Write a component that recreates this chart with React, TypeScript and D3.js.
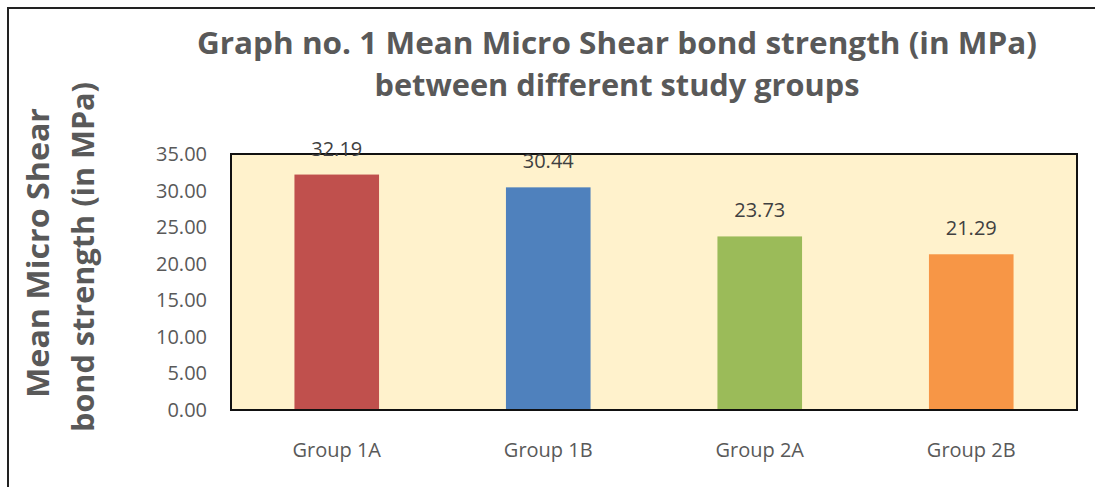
import React from 'react';
import * as d3 from 'd3';

const groups = ['Group 1A', 'Group 1B', 'Group 2A', 'Group 2B'];
const meanStrength = [32.19, 30.44, 23.73, 21.29];
const barColors = ['#C0504D', '#4F81BD', '#9BBB59', '#F79646'];
const yTicks = [0, 5, 10, 15, 20, 25, 30, 35];
const titleLines = ['Graph no. 1 Mean Micro Shear bond strength (in MPa)', 'between different study groups'];
const yTitleLines = ['Mean Micro Shear', 'bond strength (in MPa)'];

const W = 1095;
const H = 487;
const plot = { left: 231, top: 154, right: 1077, bottom: 410 };
const font = '"Open Sans", "Noto Sans", sans-serif';

const App: React.FC = () => {
  // scales
  const x = d3
    .scaleBand<string>()
    .domain(groups)
    .range([plot.left, plot.right])
    .paddingInner(0.6)
    .paddingOuter(0.3);
  const y = d3.scaleLinear().domain([0, 35]).range([plot.bottom, plot.top]);
  const fmt = d3.format('.2f');

  return (
    <svg
      width={W}
      height={H}
      style={{ position: 'absolute', left: 0, top: 0, background: '#fff' }}
      fontFamily={font}
    >
      {/* outer frame */}
      <rect x={8} y={8} width={W + 20} height={H + 20} fill="#fff" stroke="#222" strokeWidth={2} />

      {/* title */}
      <text x={617} y={54} textAnchor="middle" fontSize={31} fontWeight="bold" fill="#595959"
        textLength={840} lengthAdjust="spacingAndGlyphs">
        {titleLines[0]}
      </text>
      <text x={617} y={96} textAnchor="middle" fontSize={31} fontWeight="bold" fill="#595959"
        textLength={485} lengthAdjust="spacingAndGlyphs">
        {titleLines[1]}
      </text>

      {/* y axis title */}
      <text transform="translate(49,253) rotate(-90)" textAnchor="middle" fontSize={31} fontWeight="bold"
        fill="#595959" textLength={290} lengthAdjust="spacingAndGlyphs">
        {yTitleLines[0]}
      </text>
      <text transform="translate(94,257) rotate(-90)" textAnchor="middle" fontSize={31} fontWeight="bold"
        fill="#595959" textLength={350} lengthAdjust="spacingAndGlyphs">
        {yTitleLines[1]}
      </text>

      {/* plot area */}
      <rect
        x={plot.left}
        y={plot.top}
        width={plot.right - plot.left}
        height={plot.bottom - plot.top}
        fill="#FFF2CC"
      />

      {/* y tick labels */}
      {yTicks.map((t) => (
        <text key={t} x={207} y={y(t)} dy="0.35em" textAnchor="end" fontSize={20} fill="#595959">
          {fmt(t)}
        </text>
      ))}

      {/* bars */}
      {groups.map((g, i) => (
        <rect
          key={g}
          x={x(g)}
          y={y(meanStrength[i])}
          width={x.bandwidth()}
          height={y(0) - y(meanStrength[i])}
          fill={barColors[i]}
        />
      ))}

      {/* plot border */}
      <rect
        x={plot.left}
        y={plot.top}
        width={plot.right - plot.left}
        height={plot.bottom - plot.top}
        fill="none"
        stroke="#111"
        strokeWidth={2}
      />

      {/* value labels */}
      {groups.map((g, i) => (
        <text
          key={g}
          x={(x(g) ?? 0) + x.bandwidth() / 2}
          y={y(meanStrength[i]) - 19}
          textAnchor="middle"
          fontSize={20}
          fill="#404040"
        >
          {fmt(meanStrength[i])}
        </text>
      ))}

      {/* category labels */}
      {groups.map((g) => (
        <text key={g} x={(x(g) ?? 0) + x.bandwidth() / 2} y={457} textAnchor="middle" fontSize={20} fill="#595959">
          {g}
        </text>
      ))}
    </svg>
  );
};

export default App;
